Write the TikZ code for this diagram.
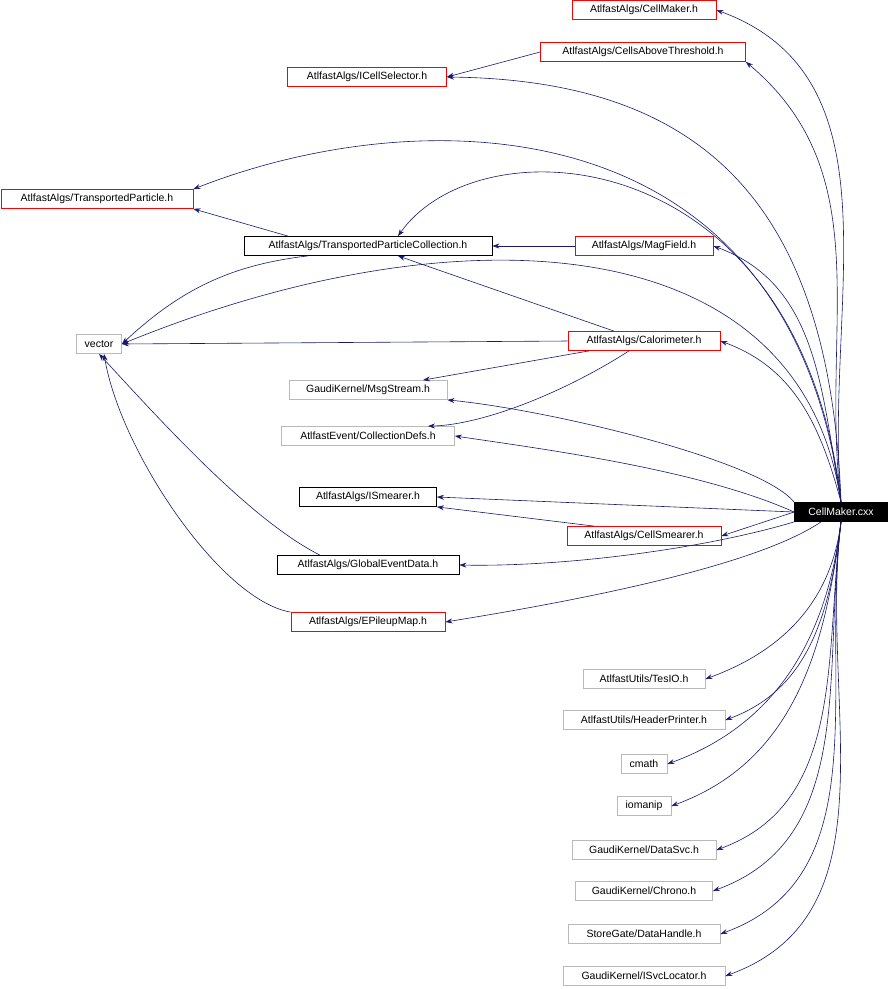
\documentclass[tikz,border=0pt]{standalone}
\usepackage{fontspec}
\setmainfont{Liberation Sans}
\usetikzlibrary{arrows.meta}
\definecolor{edgeblue}{HTML}{191970}

\tikzset{
  file/.style={draw, line width=0.8pt, minimum height=19, inner sep=1pt, font=\fontsize{10.5}{12}\selectfont},
  redfile/.style={file, draw=red},
  grayfile/.style={file, draw=gray!55},
  blackfile/.style={file, draw=black},
  edge/.style={edgeblue, line width=0.6pt, -{Stealth[length=7pt,width=5pt]}}
}

\begin{document}
\begin{tikzpicture}[x=1pt,y=-1pt]
  \useasboundingbox (0,0) rectangle (890,989);

  % main file
  \node[file, fill=black, text=white, minimum width=93] (cxx) at (841,512) {CellMaker.cxx};

  % included headers
  \node[redfile, minimum width=144] (cmh) at (644,10) {AtlfastAlgs/CellMaker.h};
  \node[redfile, minimum width=205] (cat) at (643,52) {AtlfastAlgs/CellsAboveThreshold.h};
  \node[redfile, minimum width=159] (ics) at (367,77) {AtlfastAlgs/ICellSelector.h};
  \node[redfile, minimum width=192] (tp) at (97,199) {AtlfastAlgs/TransportedParticle.h};
  \node[blackfile, minimum width=248] (tpc) at (368,246) {AtlfastAlgs/TransportedParticleCollection.h};
  \node[redfile, minimum width=138] (mf) at (644,246) {AtlfastAlgs/MagField.h};
  \node[grayfile, minimum width=45] (vec) at (99,344) {vector};
  \node[redfile, minimum width=152] (cal) at (644,341) {AtlfastAlgs/Calorimeter.h};
  \node[grayfile, minimum width=158] (ms) at (368,390) {GaudiKernel/MsgStream.h};
  \node[grayfile, minimum width=173] (cd) at (368,436) {AtlfastEvent/CollectionDefs.h};
  \node[blackfile, minimum width=137] (ism) at (368,497) {AtlfastAlgs/ISmearer.h};
  \node[redfile, minimum width=154] (cs) at (644,536) {AtlfastAlgs/CellSmearer.h};
  \node[blackfile, minimum width=182] (ged) at (368,565) {AtlfastAlgs/GlobalEventData.h};
  \node[redfile, minimum width=154] (epm) at (368,622) {AtlfastAlgs/EPileupMap.h};
  \node[grayfile, minimum width=122] (tes) at (644,679) {AtlfastUtils/TesIO.h};
  \node[grayfile, minimum width=162] (hp) at (644,720) {AtlfastUtils/HeaderPrinter.h};
  \node[grayfile, minimum width=46] (cm) at (644,764) {cmath};
  \node[grayfile, minimum width=54] (iom) at (644,806) {iomanip};
  \node[grayfile, minimum width=144] (ds) at (644,850) {GaudiKernel/DataSvc.h};
  \node[grayfile, minimum width=137] (chr) at (644,891) {GaudiKernel/Chrono.h};
  \node[grayfile, minimum width=152] (dh) at (644,934) {StoreGate/DataHandle.h};
  \node[grayfile, minimum width=162] (isl) at (644,976) {GaudiKernel/ISvcLocator.h};

  % edges from the main file, upwards
  \draw[edge] (cxx.north) to[out=95,in=-20] (cmh.east);
  \draw[edge] (cxx.north) to[out=97,in=-40] (cat.south east);
  \draw[edge] (cxx.north) .. controls (830,200) and (700,80) .. (ics.east);
  \draw[edge] (cxx.north) .. controls (790,100) and (420,100) .. (tp.north east);
  \draw[edge] (cxx.north) .. controls (800,140) and (480,120) .. ([xshift=30]tpc.north);
  \draw[edge] (cxx.north) to[out=100,in=-20] (mf.east);
  \draw[edge] (cxx.north) .. controls (800,220) and (450,210) .. (vec.east);
  \draw[edge] (cxx.north) to[out=105,in=-20] (cal.east);
  \draw[edge] (cxx.north west) .. controls (760,460) and (550,410) .. (ms.south east);
  \draw[edge] (cxx.west) .. controls (700,470) and (550,450) .. (cd.east);
  \draw[edge] (cxx.west) -- (ism.east);
  \draw[edge] (cxx.west) -- (cs.east);
  \draw[edge] (cxx.south west) .. controls (700,550) and (560,567) .. (ged.east);
  \draw[edge] ([xshift=-20]cxx.south) .. controls (750,570) and (550,605) .. (epm.east);

  % edges from the main file, downwards
  \foreach \h in {tes,hp,cm,iom,ds,chr,dh,isl}
    \draw[edge] (cxx.south) to[out=-97,in=20] (\h.east);

  % edges between headers
  \draw[edge] (cat.west) -- (ics.east);
  \draw[edge] ([xshift=-80]tpc.north) -- (tp.south east);
  \draw[edge] ([xshift=-60]tpc.south) .. controls (230,265) and (180,290) .. (vec.east);
  \draw[edge] (mf.west) -- (tpc.east);
  \draw[edge] ([xshift=-30]cal.north) -- ([xshift=30]tpc.south);
  \draw[edge] (cal.west) -- (vec.east);
  \draw[edge] ([xshift=-55]cal.south) -- ([xshift=55]ms.north);
  \draw[edge] ([xshift=-15]cal.south) .. controls (560,395) and (480,425) .. ([xshift=60]cd.north);
  \draw[edge] ([xshift=-50]cs.north) -- (ism.south east);
  \draw[edge] ([xshift=-48]ged.north) .. controls (250,520) and (160,420) .. (vec.south);
  \draw[edge] (epm.north west) .. controls (220,600) and (120,450) .. ([xshift=5]vec.south);
\end{tikzpicture}
\end{document}
